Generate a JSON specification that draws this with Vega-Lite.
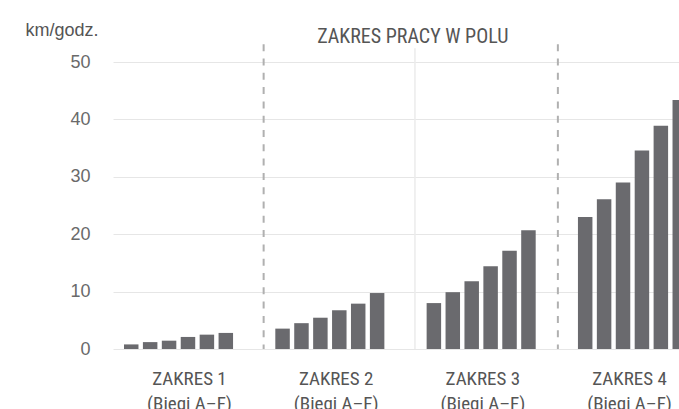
{
  "$schema": "https://vega.github.io/schema/vega-lite/v6.json",
  "width": 566,
  "height": 287,
  "autosize": "none",
  "padding": {"left": 113, "top": 62, "right": 0, "bottom": 60},
  "background": "#ffffff",
  "config": {"view": {"stroke": null}},
  "resolve": {"scale": {"x": "independent"}, "axis": {"x": "independent"}},
  "layer": [
    {
      "layer": [
        {
          "data": {"values": [
            {"zakres": "ZAKRES 1", "bieg": "A", "slot": "1A", "v": 0.8},
            {"zakres": "ZAKRES 1", "bieg": "B", "slot": "1B", "v": 1.2},
            {"zakres": "ZAKRES 1", "bieg": "C", "slot": "1C", "v": 1.45},
            {"zakres": "ZAKRES 1", "bieg": "D", "slot": "1D", "v": 2.1},
            {"zakres": "ZAKRES 1", "bieg": "E", "slot": "1E", "v": 2.5},
            {"zakres": "ZAKRES 1", "bieg": "F", "slot": "1F", "v": 2.8},
            {"zakres": "ZAKRES 2", "bieg": "A", "slot": "2A", "v": 3.55},
            {"zakres": "ZAKRES 2", "bieg": "B", "slot": "2B", "v": 4.5},
            {"zakres": "ZAKRES 2", "bieg": "C", "slot": "2C", "v": 5.45},
            {"zakres": "ZAKRES 2", "bieg": "D", "slot": "2D", "v": 6.75},
            {"zakres": "ZAKRES 2", "bieg": "E", "slot": "2E", "v": 7.9},
            {"zakres": "ZAKRES 2", "bieg": "F", "slot": "2F", "v": 9.75},
            {"zakres": "ZAKRES 3", "bieg": "A", "slot": "3A", "v": 8.0},
            {"zakres": "ZAKRES 3", "bieg": "B", "slot": "3B", "v": 9.9},
            {"zakres": "ZAKRES 3", "bieg": "C", "slot": "3C", "v": 11.8},
            {"zakres": "ZAKRES 3", "bieg": "D", "slot": "3D", "v": 14.4},
            {"zakres": "ZAKRES 3", "bieg": "E", "slot": "3E", "v": 17.1},
            {"zakres": "ZAKRES 3", "bieg": "F", "slot": "3F", "v": 20.7},
            {"zakres": "ZAKRES 4", "bieg": "A", "slot": "4A", "v": 23.0},
            {"zakres": "ZAKRES 4", "bieg": "B", "slot": "4B", "v": 26.1},
            {"zakres": "ZAKRES 4", "bieg": "C", "slot": "4C", "v": 29.0},
            {"zakres": "ZAKRES 4", "bieg": "D", "slot": "4D", "v": 34.6},
            {"zakres": "ZAKRES 4", "bieg": "E", "slot": "4E", "v": 38.9},
            {"zakres": "ZAKRES 4", "bieg": "F", "slot": "4F", "v": 43.4}
          ]},
          "mark": {"type": "bar", "color": "#6a6a6e", "clip": true},
          "encoding": {
            "x": {"field": "slot", "type": "nominal", "axis": null,
              "scale": {"type": "band", "range": [0, 585], "paddingInner": 0.234, "paddingOuter": 0.581,
                "domain": ["1A","1B","1C","1D","1E","1F","s1a","s1b","2A","2B","2C","2D","2E","2F","s2a","s2b","3A","3B","3C","3D","3E","3F","s3a","s3b","4A","4B","4C","4D","4E","4F"]}},
            "y": {"field": "v", "type": "quantitative",
              "scale": {"domain": [0, 50], "nice": false},
              "axis": {"title": "km/godz.", "titleAngle": 0, "titleX": -88, "titleY": -27, "titleAlign": "left", "titleBaseline": "alphabetic",
                "titleFont": "Liberation Sans", "titleFontSize": 18, "titleFontWeight": "normal", "titleColor": "#555555",
                "values": [0, 10, 20, 30, 40, 50], "ticks": false, "domain": false, "labelPadding": 23,
                "labelFont": "Liberation Sans", "labelFontSize": 18, "labelColor": "#6a6a6a",
                "grid": true, "gridColor": "#e6e6e6", "gridWidth": 1}}
          }
        },
        {
          "data": {"values": [{"sep": "s1b"}]},
          "mark": {"type": "rule", "color": "#b0b0b0", "strokeWidth": 2, "strokeDash": [7, 7.3]},
          "encoding": {
            "x": {"field": "sep", "type": "nominal", "axis": null, "bandPosition": 0.5,
              "scale": {"type": "band", "range": [0, 585], "paddingInner": 0.234, "paddingOuter": 0.581,
                "domain": ["1A","1B","1C","1D","1E","1F","s1a","s1b","2A","2B","2C","2D","2E","2F","s2a","s2b","3A","3B","3C","3D","3E","3F","s3a","s3b","4A","4B","4C","4D","4E","4F"]}},
            "y": {"datum": 53.1, "type": "quantitative", "scale": {"domain": [0, 50], "nice": false}},
            "y2": {"datum": 0}
          }
        },
        {
          "data": {"values": [{"sep": "s2b"}]},
          "mark": {"type": "rule", "color": "#ebebeb", "strokeWidth": 1.5},
          "encoding": {
            "x": {"field": "sep", "type": "nominal", "axis": null, "bandPosition": 0.5,
              "scale": {"type": "band", "range": [0, 585], "paddingInner": 0.234, "paddingOuter": 0.581,
                "domain": ["1A","1B","1C","1D","1E","1F","s1a","s1b","2A","2B","2C","2D","2E","2F","s2a","s2b","3A","3B","3C","3D","3E","3F","s3a","s3b","4A","4B","4C","4D","4E","4F"]}},
            "y": {"datum": 52.4, "type": "quantitative", "scale": {"domain": [0, 50], "nice": false}},
            "y2": {"datum": 0}
          }
        },
        {
          "data": {"values": [{"sep": "s3b"}]},
          "mark": {"type": "rule", "color": "#b0b0b0", "strokeWidth": 2, "strokeDash": [7, 7.3]},
          "encoding": {
            "x": {"field": "sep", "type": "nominal", "axis": null, "bandPosition": -0.08,
              "scale": {"type": "band", "range": [0, 585], "paddingInner": 0.234, "paddingOuter": 0.581,
                "domain": ["1A","1B","1C","1D","1E","1F","s1a","s1b","2A","2B","2C","2D","2E","2F","s2a","s2b","3A","3B","3C","3D","3E","3F","s3a","s3b","4A","4B","4C","4D","4E","4F"]}},
            "y": {"datum": 53.1, "type": "quantitative", "scale": {"domain": [0, 50], "nice": false}},
            "y2": {"datum": 0}
          }
        },
        {
          "data": {"values": [{"sep": "s2b", "label": "ZAKRES PRACY W POLU"}]},
          "mark": {"type": "text", "font": "Liberation Sans Narrow, Roboto Condensed, DejaVu Sans Condensed, sans-serif", "fontSize": 20, "color": "#555555", "align": "center", "baseline": "alphabetic"},
          "encoding": {
            "x": {"field": "sep", "type": "nominal", "axis": null, "bandPosition": 0.35,
              "scale": {"type": "band", "range": [0, 585], "paddingInner": 0.234, "paddingOuter": 0.581,
                "domain": ["1A","1B","1C","1D","1E","1F","s1a","s1b","2A","2B","2C","2D","2E","2F","s2a","s2b","3A","3B","3C","3D","3E","3F","s3a","s3b","4A","4B","4C","4D","4E","4F"]}},
            "y": {"datum": 53.3, "type": "quantitative", "scale": {"domain": [0, 50], "nice": false}},
            "text": {"field": "label"}
          }
        }
      ]
    },
    {
      "data": {"values": [
        {"g": "ZAKRES 1|(Biegi A–F)"},
        {"g": "ZAKRES 2|(Biegi A–F)"},
        {"g": "ZAKRES 3|(Biegi A–F)"},
        {"g": "ZAKRES 4|(Biegi A–F)"}
      ]},
      "mark": {"type": "point", "opacity": 0},
      "encoding": {
        "x": {"field": "g", "type": "nominal", "sort": null,
          "scale": {"type": "point", "range": [0, 592], "padding": 0.518},
          "axis": {"orient": "bottom", "title": null, "domain": false, "ticks": false, "tickSize": 0,
            "labelPadding": 20, "labelAngle": 0, "labelExpr": "split(datum.label, '|')",
            "labelFont": "Liberation Sans Narrow, Roboto Condensed, DejaVu Sans Condensed, sans-serif",
            "labelFontSize": 19, "labelColor": "#555555", "labelLineHeight": 25,
            "labelOverlap": false, "labelBound": false, "labelFlush": false, "labelAlign": "center", "labelBaseline": "top"}}
      }
    }
  ]
}
